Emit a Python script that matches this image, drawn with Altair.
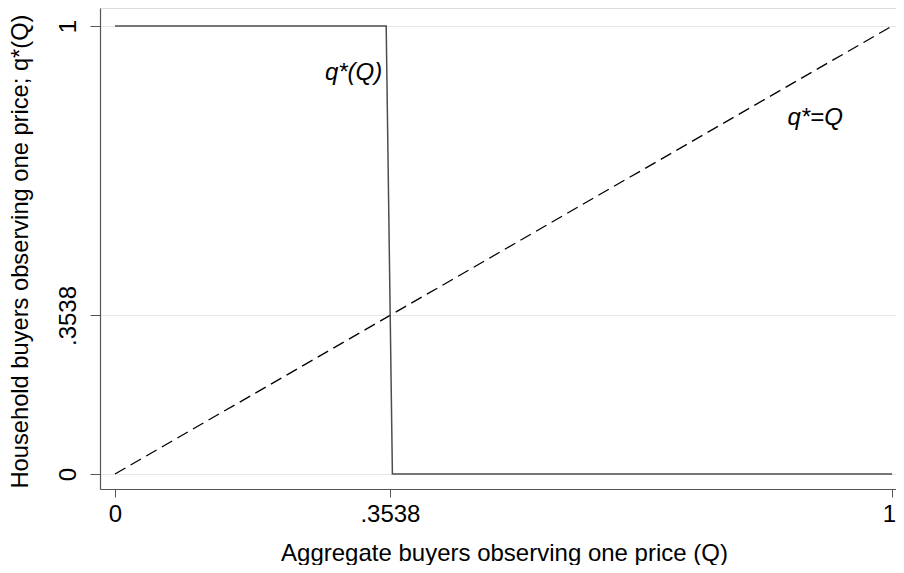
import altair as alt
import pandas as pd

# Step function q*(Q)
step_Q = [0.0, 0.349, 0.357, 1.0]
step_q = [1.0, 1.0, 0.0, 0.0]

# 45-degree line q* = Q
diag_Q = [0.0, 1.0]
diag_q = [0.0, 1.0]

tick_values = [0, 0.3538, 1]
tick_labels = ["0", ".3538", "1"]

ann_text = ["q*(Q)", "q*=Q"]
ann_Q = [0.307, 0.901]
ann_q = [0.895, 0.795]

FONT = "Liberation Sans"
FS = 24

label_expr = " : ".join(
    f"datum.value == {v} ? '{l}'" for v, l in zip(tick_values, tick_labels)
) + " : ''"

step_df = pd.DataFrame({"Q": step_Q, "q": step_q})
diag_df = pd.DataFrame({"Q": diag_Q, "q": diag_q})
ann_df = pd.DataFrame({"Q": ann_Q, "q": ann_q, "t": ann_text})

xs = alt.Scale(domain=[-0.0193, 1.0051], nice=False, zero=False)
ys = alt.Scale(domain=[-0.0335, 1.0402], nice=False, zero=False)

x_axis = alt.Axis(
    values=tick_values, labelExpr=label_expr, grid=False,
    tickSize=8, tickColor="#555555", tickWidth=1,
    domainColor="#555555", domainWidth=1.2,
    labelFont=FONT, labelFontSize=FS, labelColor="black", labelPadding=5,
    labelOffset={"condition": {"test": "datum.value == 1", "value": -3}, "value": 0},
    title="Aggregate buyers observing one price (Q)",
    titleFont=FONT, titleFontSize=FS, titleFontWeight="normal", titleColor="black",
    titleX=404, titleAlign="center", titleY=71, titleBaseline="alphabetic",
)
y_axis = alt.Axis(
    values=tick_values, labelExpr=label_expr, grid=True,
    gridColor="#e6e6e6", gridWidth=1,
    tickSize=10, tickColor="#555555", tickWidth=1,
    domainColor="#555555", domainWidth=1.2,
    labelFont=FONT, labelFontSize=FS, labelColor="black", labelPadding=10,
    labelAngle=270, labelAlign="center", labelBaseline="bottom",
    title="Household buyers  observing one price; q*(Q)",
    titleFont=FONT, titleFontSize=23.7, titleFontWeight="normal", titleColor="black",
    titleAngle=270, titleX=-73, titleY=243, titleBaseline="alphabetic", titleAlign="center",
)

step = alt.Chart(step_df).mark_line(color="#4d4d4d", strokeWidth=1.5).encode(
    x=alt.X("Q:Q", scale=xs, axis=x_axis),
    y=alt.Y("q:Q", scale=ys, axis=y_axis),
)
diag = alt.Chart(diag_df).mark_line(color="black", strokeWidth=1.3, strokeDash=[12, 6]).encode(
    x=alt.X("Q:Q", scale=xs),
    y=alt.Y("q:Q", scale=ys),
)
ann = alt.Chart(ann_df).mark_text(
    font=FONT, fontSize=FS, fontStyle="italic", color="black", align="center", baseline="middle"
).encode(
    x=alt.X("Q:Q", scale=xs),
    y=alt.Y("q:Q", scale=ys),
    text="t:N",
)

chart = alt.layer(diag, step, ann).properties(
    width=796, height=481,
    autosize=alt.AutoSizeParams(type="none"),
    padding={"left": 92, "top": 0, "right": 0, "bottom": 76},
).configure_view(stroke=None).configure(background="white")

chart.save("out.html", embed_options={"renderer": "svg", "actions": False})
